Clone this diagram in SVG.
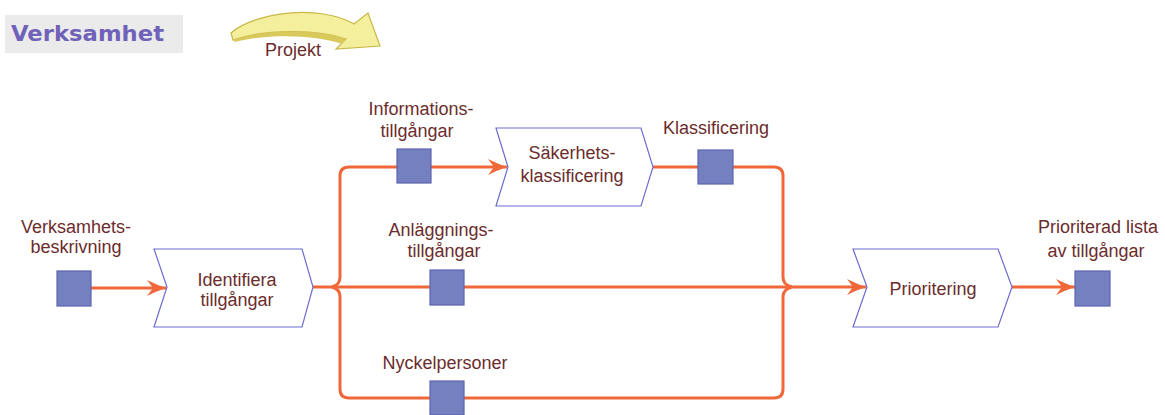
<svg xmlns="http://www.w3.org/2000/svg" width="1165" height="415" viewBox="0 0 1165 415">
  <defs>
    <marker id="arr" markerUnits="userSpaceOnUse" markerWidth="24" markerHeight="20" refX="20" refY="10" orient="auto" viewBox="0 0 24 20">
      <path d="M20,10 Q11,7 1,2 L7,10 L1,18 Q11,13 20,10 Z" fill="#f0683a"/>
    </marker>
  </defs>
  <style>
    .lbl { font-family: "Liberation Sans", Arial, sans-serif; font-size: 18px; fill: #6b2c2c; text-anchor: middle; }
    .conn { fill: none; stroke: #f0683a; stroke-width: 3; stroke-linejoin: round; }
    .proc { fill: #ffffff; stroke: #6c6cd0; stroke-width: 1.2; }
    .sq { fill: #7480c0; stroke: #5b64b0; stroke-width: 1.2; }
  </style>
  <rect width="1165" height="415" fill="#ffffff"/>

  <g id="title">
    <rect x="5" y="15" width="178" height="38" fill="#ebebeb"/>
    <text x="11" y="41" font-family="DejaVu Sans, Verdana, sans-serif" font-weight="bold" font-size="22" fill="#6f62b8" textLength="153" lengthAdjust="spacingAndGlyphs">Verksamhet</text>
  </g>

  <g id="projekt">
    <path d="M231,33 C255,12 320,4 354,24 L368,13 L380,46 L336,49 L346,39 C320,30 268,28 233,40 Z" fill="#f4ef9c" stroke="#c8b84a" stroke-width="1.2"/>
    <path d="M233,40 C268,28 320,30 346,39 L342,44 C318,35 268,33 235,42 Z" fill="#d8c95a"/>
    <text class="lbl" x="293" y="56" font-size="17">Projekt</text>
  </g>

  <g id="connectors">
    <path class="conn" d="M91,288 L166,288" marker-end="url(#arr)"/>
    <path class="conn" d="M313,287 L866,287" marker-end="url(#arr)"/>
    <path class="conn" d="M332,287 Q340,285 340,277 L340,176 Q340,167 349,167 L507,167" marker-end="url(#arr)"/>
    <path class="conn" d="M332,287 Q340,289 340,297 L340,389 Q340,398 349,398 L774,398 Q783,398 783,389 L783,297 Q783,289 792,287"/>
    <path class="conn" d="M653,167 L774,167 Q783,167 783,176 L783,277 Q783,285 792,287"/>
    <path class="conn" d="M1012,287 L1075,287" marker-end="url(#arr)"/>
  </g>

  <g id="verksamhetsbeskrivning">
    <text class="lbl" x="76" y="233">Verksamhets-</text>
    <text class="lbl" x="76" y="253">beskrivning</text>
    <rect class="sq" x="57" y="271" width="34" height="35"/>
  </g>

  <g id="identifiera">
    <polygon class="proc" points="154,249 302,249 313,287 302,327 154,327 167,287"/>
    <text class="lbl" x="237" y="286">Identifiera</text>
    <text class="lbl" x="237" y="306">tillgångar</text>
  </g>

  <g id="informationstillgangar">
    <text class="lbl" x="421" y="115">Informations-</text>
    <text class="lbl" x="417" y="137">tillgångar</text>
    <rect class="sq" x="397" y="149" width="34" height="34"/>
  </g>

  <g id="sakerhetsklassificering">
    <polygon class="proc" points="496,128 641,128 653,167 641,206 496,206 508,167"/>
    <text class="lbl" x="572" y="159">Säkerhets-</text>
    <text class="lbl" x="572" y="182">klassificering</text>
  </g>

  <g id="klassificering">
    <text class="lbl" x="716" y="134">Klassificering</text>
    <rect class="sq" x="698" y="150" width="35" height="34"/>
  </g>

  <g id="anlaggningstillgangar">
    <text class="lbl" x="441" y="236">Anläggnings-</text>
    <text class="lbl" x="444" y="257">tillgångar</text>
    <rect class="sq" x="430" y="270" width="34" height="35"/>
  </g>

  <g id="nyckelpersoner">
    <text class="lbl" x="445" y="369">Nyckelpersoner</text>
    <rect class="sq" x="430" y="381" width="34" height="34"/>
  </g>

  <g id="prioritering">
    <polygon class="proc" points="853,249 998,249 1012,287 998,327 853,327 867,287"/>
    <text class="lbl" x="933" y="295">Prioritering</text>
  </g>

  <g id="prioriterad-lista">
    <text class="lbl" x="1098" y="233">Prioriterad lista</text>
    <text class="lbl" x="1096" y="257">av tillgångar</text>
    <rect class="sq" x="1075" y="271" width="35" height="35"/>
  </g>
</svg>
